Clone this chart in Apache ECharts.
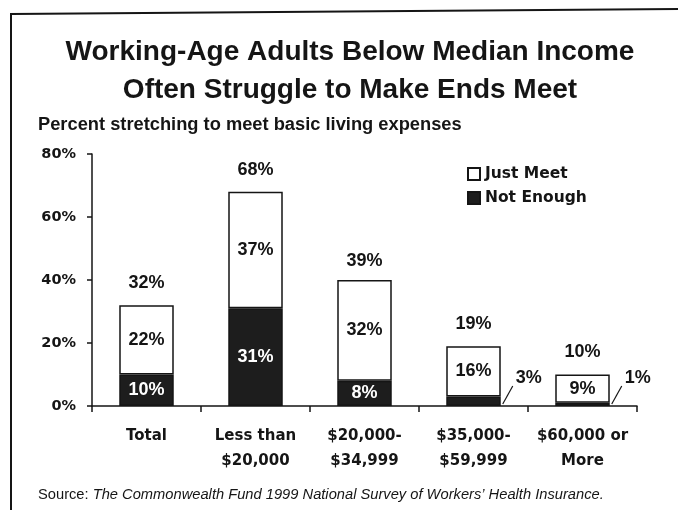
<!DOCTYPE html>
<html>
<head>
<meta charset="utf-8">
<style>
  html, body { margin: 0; padding: 0; background: #fff; }
  #chart { width: 678px; height: 510px; }
</style>
<script src="https://cdn.jsdelivr.net/npm/echarts@6/dist/echarts.min.js"></script>
</head>
<body>
<div id="chart"></div>
<script>
// Income groups and survey shares (percent of working-age adults)
const categories = ['Total', 'Less than\n$20,000', '$20,000-\n$34,999', '$35,000-\n$59,999', '$60,000 or\nMore'];
const notEnough = [10, 31, 8, 3, 1];
const justMeet = [22, 37, 32, 16, 9];
const totals = [32, 68, 39, 19, 10];
const yTicks = { min: 0, max: 80, interval: 20 };

const condensed = "'Liberation Sans Narrow', 'Liberation Sans', Arial, sans-serif";
const wide = "'DejaVu Sans', Verdana, sans-serif";
const ink = '#151515';

const chart = echarts.init(document.getElementById('chart'));

// small segments get an outside label with a short slanted leader
const calloutData = notEnough
  .map((v, i) => [i, v])
  .filter(d => d[1] < 5);

chart.setOption({
  animation: false,
  backgroundColor: '#fff',
  title: [
    {
      text: 'Working-Age Adults Below Median Income\nOften Struggle to Make Ends Meet',
      left: 345, top: 28, textAlign: 'center',
      textStyle: { fontFamily: condensed, fontWeight: 'bold', fontSize: 28, lineHeight: 38, color: ink }
    },
    {
      text: 'Percent stretching to meet basic living expenses',
      left: 33, top: 111,
      textStyle: { fontFamily: condensed, fontWeight: 'bold', fontSize: 18.3, color: ink }
    },
    {
      text: 'Source: {i|The Commonwealth Fund 1999 National Survey of Workers\u2019 Health Insurance.}',
      left: 33, top: 482,
      textStyle: {
        fontFamily: condensed, fontWeight: 'normal', fontSize: 14.7, color: ink,
        rich: { i: { fontFamily: condensed, fontStyle: 'italic', fontSize: 14.7, color: ink } }
      }
    }
  ],
  legend: {
    orient: 'vertical', left: 462, top: 161,
    itemWidth: 12, itemHeight: 12, itemGap: 8,
    icon: 'rect',
    data: ['Just Meet', 'Not Enough'],
    textStyle: { fontFamily: wide, fontWeight: 'bold', fontSize: 15.5, color: ink },
    selectedMode: false
  },
  grid: { left: 92, right: 41, top: 154, bottom: 104 },
  xAxis: {
    type: 'category',
    data: categories,
    axisLine: { lineStyle: { color: ink, width: 1.5 } },
    axisTick: { show: true, length: 6, lineStyle: { color: ink, width: 1.5 } },
    axisLabel: {
      margin: 18, interval: 0,
      fontFamily: wide, fontWeight: 'bold', fontSize: 15, lineHeight: 25, color: ink
    }
  },
  yAxis: {
    type: 'value',
    min: yTicks.min, max: yTicks.max, interval: yTicks.interval,
    axisLine: { show: true, lineStyle: { color: ink, width: 1.5 } },
    axisTick: { show: true, length: 5, lineStyle: { color: ink, width: 1.5 } },
    splitLine: { show: false },
    axisLabel: {
      formatter: '{value}%', margin: 16,
      fontFamily: wide, fontWeight: 'bold', fontSize: 14.5, color: ink
    }
  },
  series: [
    {
      name: 'Not Enough', type: 'bar', stack: 'share', barWidth: '50%',
      data: notEnough,
      itemStyle: { color: '#1d1d1d', borderColor: ink, borderWidth: 1.5 },
      label: {
        show: true, position: 'inside', color: '#fff',
        fontFamily: condensed, fontWeight: 'bold', fontSize: 18,
        formatter: p => (p.value < 5 ? '' : p.value + '%')
      }
    },
    {
      name: 'Just Meet', type: 'bar', stack: 'share', barWidth: '50%',
      data: justMeet,
      itemStyle: { color: '#fff', borderColor: ink, borderWidth: 1.5 },
      label: {
        show: true, position: 'inside', color: ink,
        fontFamily: condensed, fontWeight: 'bold', fontSize: 18,
        formatter: '{c}%'
      }
    },
    {
      // overall share written above each stack
      name: 'Total', type: 'bar', barWidth: '50%', barGap: '-100%',
      data: totals, silent: true, z: 1,
      itemStyle: { color: 'rgba(0,0,0,0)' },
      label: {
        show: true, position: 'top', distance: 13, color: ink,
        fontFamily: condensed, fontWeight: 'bold', fontSize: 18,
        formatter: '{c}%'
      }
    },
    {
      name: 'Callout', type: 'custom', silent: true,
      data: calloutData,
      renderItem: (params, api) => {
        const base = api.coord([api.value(0), 0]);
        const band = api.size([1, 0])[0];
        const x0 = base[0] + band * 0.25 + 2;
        const y0 = base[1] - 2;
        return {
          type: 'group',
          children: [
            {
              type: 'line',
              shape: { x1: x0, y1: y0, x2: x0 + 10, y2: y0 - 18 },
              style: { stroke: ink, lineWidth: 1.2 }
            },
            {
              type: 'text',
              style: {
                x: x0 + 13, y: y0 - 26,
                text: api.value(1) + '%',
                textAlign: 'left', textVerticalAlign: 'middle',
                fontFamily: condensed, fontWeight: 'bold', fontSize: 18, fill: ink
              }
            }
          ]
        };
      }
    }
  ],
  graphic: [
    {
      type: 'polyline', silent: true,
      shape: { points: [[11, 510], [11, 14], [678, 9]] },
      style: { stroke: ink, lineWidth: 2, fill: null }
    }
  ]
});
</script>
</body>
</html>
